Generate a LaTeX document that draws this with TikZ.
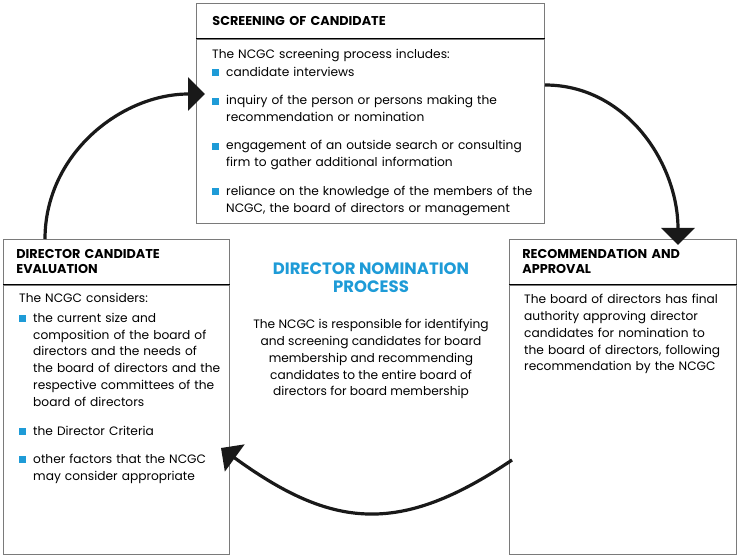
\documentclass[tikz,border=0pt]{standalone}
\usepackage{fontspec}
\setmainfont{Poppins}
\usepackage{tikz}
\usetikzlibrary{arrows.meta,positioning}
\definecolor{procblue}{HTML}{1E9BD7}
\definecolor{boxgray}{HTML}{7A7A7A}
\colorlet{arrblack}{black!90}
\newcommand{\sqitem}[1][11.5pt]{\par\vspace{#1}\hangindent=14pt\hangafter=1\noindent
  \makebox[14pt][l]{\textcolor{procblue}{\rule{7pt}{7pt}}}}

\begin{document}
\begin{tikzpicture}[x=1pt,y=1pt,font=\fontsize{12.2}{16.9}\selectfont]
    \tikzstyle{hd}=[draw=boxgray,line width=0.8pt,anchor=north west,inner xsep=13pt,inner ysep=0pt,
                    align=left,font=\fontsize{12.8}{15}\selectfont\bfseries,minimum height=45pt]
    \tikzstyle{bd}=[draw=boxgray,line width=0.8pt,anchor=north,inner sep=0pt,minimum height=269pt]
    \tikzstyle{txt}=[inner sep=0pt,align=left,anchor=north west]
    \tikzstyle{arr}=[-{Triangle[length=17pt,width=33pt]},line width=3.2pt,draw=arrblack]
    \useasboundingbox (0,0) rectangle (740,557);
    % screening box
    \node[hd,inner xsep=16pt,text width=316pt,minimum height=35pt] (scrh) at (196,554) {SCREENING OF CANDIDATE};
    \node[bd,minimum width=348pt,minimum height=184pt] (scrb) at (scrh.south) {};
    \draw[line width=0.8pt] (scrh.south west) -- (scrh.south east);
    \node[txt,text width=328pt,below right=10pt and 16pt of scrb.north west] (scrt)
      {The NCGC screening process includes:
       \sqitem[1pt]candidate interviews
       \sqitem inquiry of the person or persons making the\newline recommendation or nomination
       \sqitem engagement of an outside search or consulting\newline firm to gather additional information
       \sqitem reliance on the knowledge of the members of the\newline NCGC, the board of directors or management\par};
    % evaluation box
    \node[hd,text width=200pt] (evah) at (3,318) {DIRECTOR CANDIDATE\\EVALUATION};
    \node[bd,minimum width=226pt] (evab) at (evah.south) {};
    \draw[line width=0.8pt] (evah.south west) -- (evah.south east);
    \node[txt,text width=207pt,below right=8pt and 16pt of evab.north west] (evat)
      {The NCGC considers:
       \sqitem[3pt]the current size and\newline composition of the board of\newline directors and the needs of\newline
         the board of directors and the\newline respective committees of the\newline board of directors
       \sqitem the Director Criteria
       \sqitem other factors that the NCGC\newline may consider appropriate\par};
    % recommendation box
    \node[hd,text width=201pt] (rech) at (509,318) {RECOMMENDATION AND\\APPROVAL};
    \node[bd,minimum width=227pt] (recb) at (rech.south) {};
    \draw[line width=0.8pt] (rech.south west) -- (rech.south east);
    \node[txt,text width=210pt,below right=9pt and 15pt of recb.north west] (rect)
      {The board of directors has final\newline authority approving director\newline candidates for nomination to\newline
       the board of directors, following\newline recommendation by the NCGC};
    % centre
    \node[align=center,text=procblue,font=\fontsize{16.5}{18}\selectfont\bfseries] (ttl) at (371,279)
      {DIRECTOR NOMINATION\\PROCESS};
    \node[align=center,below=19pt of ttl] (desc)
      {The NCGC is responsible for identifying\\and screening candidates for board\\membership and recommending\\
       candidates to the entire board of\\directors for board membership};
    % cycle arrows
    \coordinate (l0) at (45,318);
    \coordinate (l1) at (205,463);
    \coordinate (r0) at (545,472);
    \coordinate (r1) at (678,312);
    \coordinate (b0) at (512,97);
    \coordinate (b1) at (221,109);
    \draw[arr] (l0) to[out=90,in=180] (l1);
    \draw[arr] (r0) to[out=0,in=90] (r1);
    \draw[arr] (b0) to[out=214,in=-36,looseness=1.2] (b1);
\end{tikzpicture}
\end{document}
